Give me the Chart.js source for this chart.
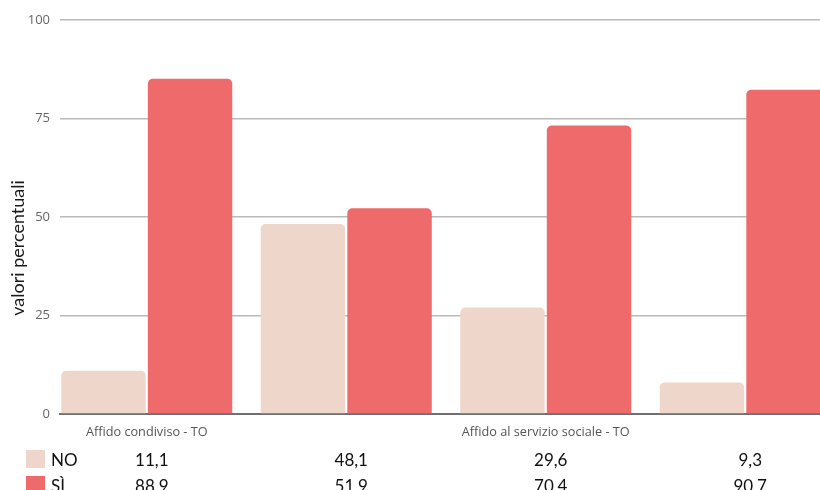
<!DOCTYPE html>
<html>
<head>
<meta charset="utf-8">
<script src="https://cdn.jsdelivr.net/npm/chart.js@4/dist/chart.umd.min.js"></script>
<style>
  html, body { margin: 0; padding: 0; background: #fff; overflow: hidden; }
  #wrap { width: 832px; height: 490px; }
</style>
</head>
<body>
<div id="wrap"><canvas id="chart" width="832" height="490"></canvas></div>
<script>
// categories (only the 1st and 3rd labels are shown in the picture)
const categories = ['Affido condiviso - TO', '', 'Affido al servizio sociale - TO', ''];
const seriesNames = ['NO', 'SÌ'];
// bar heights
const noValues = [11.0, 48.2, 27.0, 8.0];
const siValues = [85.1, 52.2, 73.2, 82.3];
// numbers printed in the table below the chart
const noTable = ['11,1', '48,1', '29,6', '9,3'];
const siTable = ['88,9', '51,9', '70,4', '90,7'];
const yTicks = [0, 25, 50, 75, 100];

const colNo = '#efd6cb';
const colSi = '#ee6a6b';
const half = 0.435;

// y title + data table under the chart
const extrasPlugin = {
    id: 'extras',
    afterDraw(chart) {
        const ctx = chart.ctx;
        const x = chart.scales.x;
        ctx.save();
        // axis title
        ctx.translate(18, 248);
        ctx.rotate(-Math.PI / 2);
        ctx.font = '18px Lato';
        ctx.fillStyle = '#1a1a1a';
        ctx.textAlign = 'center';
        ctx.textBaseline = 'middle';
        ctx.fillText('valori percentuali', 0, 0);
        ctx.restore();

        const rows = [
            { name: seriesNames[0], color: colNo, vals: noTable, base: 466 },
            { name: seriesNames[1], color: colSi, vals: siTable, base: 492 },
        ];
        ctx.save();
        ctx.font = '17px Lato';
        ctx.textBaseline = 'alphabetic';
        rows.forEach(function (r) {
            ctx.fillStyle = r.color;
            ctx.fillRect(26, r.base - 16, 19, 18);
            ctx.fillStyle = '#111';
            ctx.textAlign = 'left';
            ctx.fillText(r.name, 51, r.base);
            ctx.textAlign = 'center';
            r.vals.forEach(function (v, i) {
                ctx.fillText(v, x.getPixelForValue(i) + 5, r.base);
            });
        });
        ctx.restore();
    }
};

function draw() {
    new Chart(document.getElementById('chart'), {
        type: 'bar',
        data: {
            datasets: [
                {
                    label: seriesNames[0],
                    data: noValues.map(function (v, i) { return { x: i, y: v }; }),
                    backgroundColor: colNo,
                    borderRadius: 5,
                    categoryPercentage: 0.868,
                    barPercentage: 0.975,
                },
                {
                    label: seriesNames[1],
                    data: siValues.map(function (v, i) { return { x: i, y: v }; }),
                    backgroundColor: colSi,
                    borderRadius: 5,
                    categoryPercentage: 0.868,
                    barPercentage: 0.975,
                },
            ],
        },
        options: {
            responsive: false,
            animation: false,
            layout: { padding: { top: 20, left: 0, right: 0, bottom: 46 } },
            plugins: {
                legend: { display: false },
                tooltip: { enabled: false },
            },
            scales: {
                x: {
                    type: 'linear',
                    offset: false,
                    min: -half,
                    max: categories.length - 1 + half,
                    afterBuildTicks: function (s) {
                        s.ticks = s.ticks.filter(function (t) { return Number.isInteger(t.value); });
                    },
                    afterFit: function (s) { s.height = 30; },
                    ticks: {
                        stepSize: 1,
                        autoSkip: false,
                        maxRotation: 0,
                        padding: 3,
                        color: '#555',
                        font: { family: "'Open Sans'", size: 12.7 },
                        callback: function (v) { return categories[v] || ''; },
                    },
                    grid: { display: false, offset: false },
                    border: { display: true, color: '#6f6f6f', width: 2 },
                },
                y: {
                    min: 0,
                    max: 100,
                    afterBuildTicks: function (s) {
                        s.ticks = yTicks.map(function (v) { return { value: v }; });
                    },
                    afterFit: function (s) { s.width = 60; },
                    ticks: {
                        padding: 10,
                        color: '#666',
                        font: { family: "'Open Sans'", size: 13 },
                    },
                    grid: { color: '#bababa', lineWidth: 1.6, drawTicks: false },
                    border: { display: false },
                },
            },
        },
        plugins: [extrasPlugin],
    });
}

Promise.all([
    document.fonts.load("12px 'Open Sans'"),
    document.fonts.load("13px 'Open Sans'"),
    document.fonts.load('17px Lato'),
]).then(draw, draw);
</script>
</body>
</html>
